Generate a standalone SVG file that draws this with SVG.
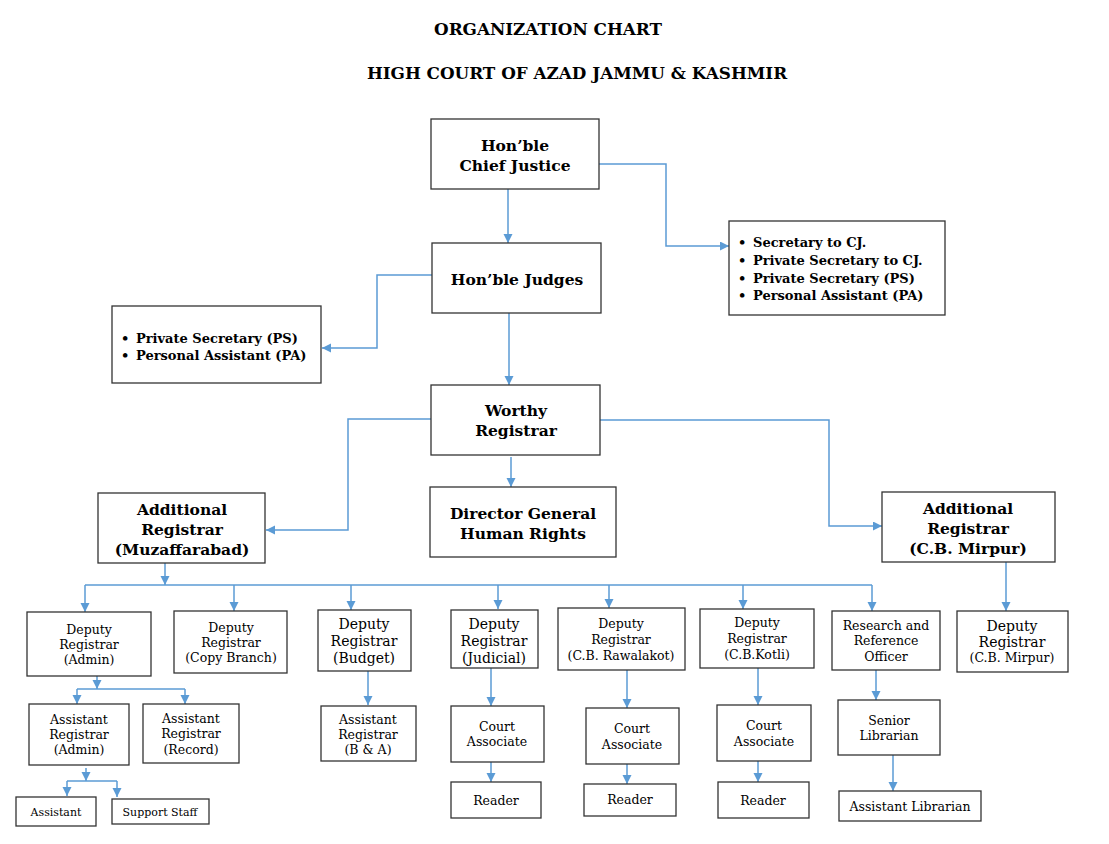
<svg xmlns="http://www.w3.org/2000/svg" width="1109" height="844" viewBox="0 0 1109 844">
<defs>
<marker id="ah" markerUnits="userSpaceOnUse" markerWidth="10" markerHeight="10" refX="9" refY="4.5" orient="auto">
<path d="M0,0 L9,4.5 L0,9 z" fill="#5B9BD5"/>
</marker>
<style>
.box{fill:#fff;stroke:#333;stroke-width:1.3}
.c{fill:none;stroke:#5B9BD5;stroke-width:1.5}
.ca{fill:none;stroke:#5B9BD5;stroke-width:1.5;marker-end:url(#ah)}
text{font-family:"DejaVu Serif","Liberation Serif",serif;fill:#000}
.h{font-size:16.8px;font-weight:bold;text-anchor:middle}
.t{font-size:15.5px;font-weight:bold;text-anchor:middle}
.l{font-size:13px;font-weight:bold}
.s{font-size:12.5px;text-anchor:middle}
.m{font-size:14px;text-anchor:middle}
.x{font-size:11px;text-anchor:middle}
</style>
</defs>
<rect width="1109" height="844" fill="#fff"/>
<g id="title">
<text class="h" x="548" y="35">ORGANIZATION CHART</text>
<text class="h" x="577" y="79">HIGH COURT OF AZAD JAMMU &amp; KASHMIR</text>
</g>
<g id="connectors">
<path class="ca" d="M508,189 V243"/>
<path class="ca" d="M599,164 H666 V246 H729"/>
<path class="ca" d="M432,275 H377 V348 H322"/>
<path class="ca" d="M509,313 V385"/>
<path class="ca" d="M431,419 H348 V530 H266"/>
<path class="ca" d="M511,457 V487"/>
<path class="ca" d="M600,420 H829 V526 H882"/>
<path class="ca" d="M165,563 V585"/>
<path class="c" d="M85,585 H872"/>
<path class="ca" d="M85,585 V612"/>
<path class="ca" d="M234,585 V611"/>
<path class="ca" d="M351,585 V610"/>
<path class="ca" d="M498,585 V609"/>
<path class="ca" d="M609,585 V608"/>
<path class="ca" d="M743,585 V609"/>
<path class="ca" d="M872,585 V611"/>
<path class="ca" d="M1006,562 V611"/>
<path class="ca" d="M97,676 V689"/>
<path class="c" d="M77,689 H185"/>
<path class="ca" d="M77,689 V704"/>
<path class="ca" d="M185,689 V704"/>
<path class="ca" d="M86,768 V781"/>
<path class="c" d="M67,781 H117"/>
<path class="ca" d="M67,781 V796"/>
<path class="ca" d="M117,781 V797"/>
<path class="ca" d="M368,671 V705"/>
<path class="ca" d="M491,668 V706"/>
<path class="ca" d="M491,762 V782"/>
<path class="ca" d="M627,670 V708"/>
<path class="ca" d="M627,764 V784"/>
<path class="ca" d="M758,668 V705"/>
<path class="ca" d="M758,761 V782"/>
<path class="ca" d="M876,670 V700"/>
<path class="ca" d="M893,755 V791"/>
</g>
<g id="chief-justice">
<rect class="box" x="431" y="119" width="168" height="70"/>
<text class="t" x="515" y="151">Hon’ble</text>
<text class="t" x="515" y="171">Chief Justice</text>
</g>
<g id="cj-staff">
<rect class="box" x="729" y="221" width="216" height="94"/>
<text class="l" x="738" y="247">•</text><text class="l" x="753" y="247">Secretary to CJ.</text>
<text class="l" x="738" y="265">•</text><text class="l" x="753" y="265">Private Secretary to CJ.</text>
<text class="l" x="738" y="283">•</text><text class="l" x="753" y="283">Private Secretary (PS)</text>
<text class="l" x="738" y="300">•</text><text class="l" x="753" y="300">Personal Assistant (PA)</text>
</g>
<g id="judges">
<rect class="box" x="432" y="243" width="169" height="70"/>
<text class="t" x="517" y="285">Hon’ble Judges</text>
</g>
<g id="judges-staff">
<rect class="box" x="112" y="306" width="209" height="77"/>
<text class="l" x="121" y="343">•</text><text class="l" x="136" y="343">Private Secretary (PS)</text>
<text class="l" x="121" y="360">•</text><text class="l" x="136" y="360">Personal Assistant (PA)</text>
</g>
<g id="registrar">
<rect class="box" x="431" y="385" width="169" height="70"/>
<text class="t" x="516" y="416">Worthy</text>
<text class="t" x="516" y="436">Registrar</text>
</g>
<g id="dg-human-rights">
<rect class="box" x="430" y="487" width="186" height="70"/>
<text class="t" x="523" y="519">Director General</text>
<text class="t" x="523" y="539">Human Rights</text>
</g>
<g id="ar-muzaffarabad">
<rect class="box" x="98" y="493" width="167" height="70"/>
<text class="t" x="182" y="515">Additional</text>
<text class="t" x="182" y="535">Registrar</text>
<text class="t" x="182" y="555">(Muzaffarabad)</text>
</g>
<g id="ar-mirpur">
<rect class="box" x="882" y="492" width="173" height="70"/>
<text class="t" x="968" y="514">Additional</text>
<text class="t" x="968" y="534">Registrar</text>
<text class="t" x="968" y="554">(C.B. Mirpur)</text>
</g>
<g id="dr-admin">
<rect class="box" x="27" y="612" width="124" height="64"/>
<text class="s" x="89" y="634">Deputy</text>
<text class="s" x="89" y="649">Registrar</text>
<text class="s" x="89" y="664">(Admin)</text>
</g>
<g id="dr-copy">
<rect class="box" x="174" y="611" width="113" height="62"/>
<text class="s" x="231" y="632">Deputy</text>
<text class="s" x="231" y="647">Registrar</text>
<text class="s" x="231" y="662">(Copy Branch)</text>
</g>
<g id="dr-budget">
<rect class="box" x="318" y="610" width="93" height="61"/>
<text class="m" x="364" y="629">Deputy</text>
<text class="m" x="364" y="646">Registrar</text>
<text class="m" x="364" y="663">(Budget)</text>
</g>
<g id="dr-judicial">
<rect class="box" x="451" y="610" width="87" height="58"/>
<text class="m" x="494" y="629">Deputy</text>
<text class="m" x="494" y="646">Registrar</text>
<text class="m" x="494" y="663">(Judicial)</text>
</g>
<g id="dr-rawalakot">
<rect class="box" x="558" y="608" width="127" height="62"/>
<text class="s" x="621" y="628">Deputy</text>
<text class="s" x="621" y="644">Registrar</text>
<text class="s" x="621" y="660">(C.B. Rawalakot)</text>
</g>
<g id="dr-kotli">
<rect class="box" x="700" y="609" width="114" height="59"/>
<text class="s" x="757" y="627">Deputy</text>
<text class="s" x="757" y="643">Registrar</text>
<text class="s" x="757" y="659">(C.B.Kotli)</text>
</g>
<g id="research-officer">
<rect class="box" x="832" y="611" width="108" height="59"/>
<text class="s" x="886" y="630">Research and</text>
<text class="s" x="886" y="645">Reference</text>
<text class="s" x="886" y="661">Officer</text>
</g>
<g id="dr-mirpur">
<rect class="box" x="957" y="611" width="111" height="61"/>
<text class="m" x="1012" y="631">Deputy</text>
<text class="m" x="1012" y="647">Registrar</text>
<text class="s" x="1012" y="662">(C.B. Mirpur)</text>
</g>
<g id="ar-admin">
<rect class="box" x="29" y="704" width="100" height="61"/>
<text class="s" x="79" y="724">Assistant</text>
<text class="s" x="79" y="739">Registrar</text>
<text class="s" x="79" y="754">(Admin)</text>
</g>
<g id="ar-record">
<rect class="box" x="143" y="704" width="96" height="59"/>
<text class="s" x="191" y="723">Assistant</text>
<text class="s" x="191" y="738">Registrar</text>
<text class="s" x="191" y="754">(Record)</text>
</g>
<g id="ar-ba">
<rect class="box" x="321" y="706" width="95" height="55"/>
<text class="s" x="368" y="724">Assistant</text>
<text class="s" x="368" y="739">Registrar</text>
<text class="s" x="368" y="754">(B &amp; A)</text>
</g>
<g id="assistant">
<rect class="box" x="16" y="797" width="80" height="29"/>
<text class="x" x="56" y="816">Assistant</text>
</g>
<g id="support-staff">
<rect class="box" x="112" y="799" width="97" height="25"/>
<text class="x" x="160" y="816">Support Staff</text>
</g>
<g id="court-associate-1">
<rect class="box" x="451" y="706" width="93" height="56"/>
<text class="s" x="497" y="731">Court</text>
<text class="s" x="497" y="746">Associate</text>
</g>
<g id="court-associate-2">
<rect class="box" x="586" y="708" width="93" height="56"/>
<text class="s" x="632" y="733">Court</text>
<text class="s" x="632" y="749">Associate</text>
</g>
<g id="court-associate-3">
<rect class="box" x="717" y="705" width="94" height="56"/>
<text class="s" x="764" y="730">Court</text>
<text class="s" x="764" y="746">Associate</text>
</g>
<g id="reader-1">
<rect class="box" x="451" y="782" width="90" height="36"/>
<text class="s" x="496" y="805">Reader</text>
</g>
<g id="reader-2">
<rect class="box" x="584" y="784" width="92" height="32"/>
<text class="s" x="630" y="804">Reader</text>
</g>
<g id="reader-3">
<rect class="box" x="718" y="782" width="91" height="36"/>
<text class="s" x="763" y="805">Reader</text>
</g>
<g id="senior-librarian">
<rect class="box" x="838" y="700" width="102" height="55"/>
<text class="s" x="889" y="725">Senior</text>
<text class="s" x="889" y="740">Librarian</text>
</g>
<g id="assistant-librarian">
<rect class="box" x="839" y="791" width="142" height="30"/>
<text class="s" x="910" y="811">Assistant Librarian</text>
</g>
</svg>
